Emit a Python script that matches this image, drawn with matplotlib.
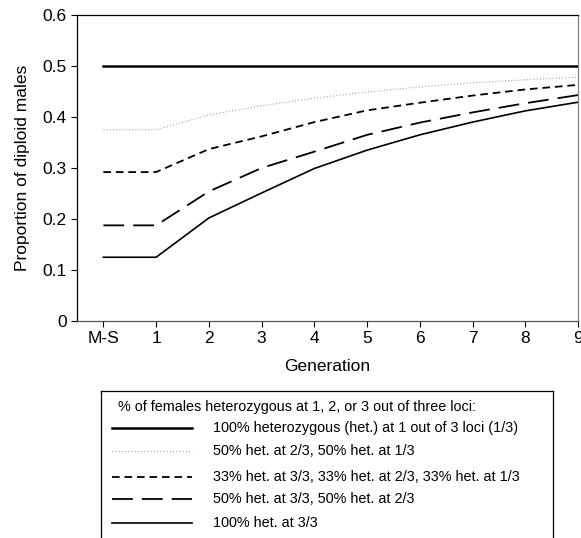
import numpy as np
import matplotlib
matplotlib.use("Agg")
import matplotlib.pyplot as plt

plt.rcParams['font.family'] = ['Liberation Sans', 'DejaVu Sans']
plt.rcParams['lines.scale_dashes'] = False

# data
generations = ["M-S", "1", "2", "3", "4", "5", "6", "7", "8", "9"]
het_1of3 = [0.5, 0.5, 0.5, 0.5, 0.5, 0.5, 0.5, 0.5, 0.5, 0.5]
het_2of3_1of3 = [0.375, 0.375, 0.404, 0.422, 0.437, 0.449, 0.459, 0.467, 0.473, 0.478]
het_mixed = [0.292, 0.292, 0.337, 0.362, 0.390, 0.413, 0.428, 0.442, 0.454, 0.463]
het_3of3_2of3 = [0.1875, 0.1875, 0.254, 0.300, 0.332, 0.365, 0.389, 0.409, 0.427, 0.443]
het_3of3 = [0.125, 0.125, 0.202, 0.251, 0.299, 0.335, 0.365, 0.390, 0.412, 0.429]

legend_title = "% of females heterozygous at 1, 2, or 3 out of three loci:"
labels = [
    "100% heterozygous (het.) at 1 out of 3 loci (1/3)",
    "50% het. at 2/3, 50% het. at 1/3",
    "33% het. at 3/3, 33% het. at 2/3, 33% het. at 1/3",
    "50% het. at 3/3, 50% het. at 2/3",
    "100% het. at 3/3",
]

series = [het_1of3, het_2of3_1of3, het_mixed, het_3of3_2of3, het_3of3]
styles = [
    dict(color="black", lw=1.8, ls="-"),
    dict(color="#9a9a9a", lw=0.8, ls=(0, (0.7, 1.6))),
    dict(color="black", lw=1.3, ls=(0, (5.5, 3.5))),
    dict(color="black", lw=1.3, ls=(0, (15, 6.5))),
    dict(color="black", lw=1.2, ls="-"),
]

fig = plt.figure(figsize=(5.81, 5.38), dpi=100)
ax = fig.add_axes([77 / 581, 1 - 321 / 538, 501 / 581, 306 / 538])

x = np.arange(len(generations))
for vals, st in zip(series, styles):
    ax.plot(x, vals, **st)

ax.set_xlim(-0.5, 9)
ax.set_ylim(0, 0.6)
ax.set_xticks(x)
ax.set_xticklabels(generations)
ax.set_yticks([0, 0.1, 0.2, 0.3, 0.4, 0.5, 0.6])
ax.set_yticklabels(["0", "0.1", "0.2", "0.3", "0.4", "0.5", "0.6"])
ax.tick_params(labelsize=12.5, length=4, width=0.8, direction="out")
for s in ax.spines.values():
    s.set_linewidth(0.9)
ax.spines["right"].set_color("#808080")
ax.spines["bottom"].set_color("#555555")
ax.set_xlabel("Generation", fontsize=12.5, labelpad=9)
ax.set_ylabel("Proportion of diploid males", fontsize=12.5, labelpad=9)

# legend box, drawn as its own axes (bottom is cut off by the figure edge)
lax = fig.add_axes([101 / 581, -0.05, 452 / 581, 1 - 391 / 538 + 0.05])
lax.set_xlim(0, 452)
lax.set_ylim(147 + 27, 0)
lax.set_xticks([])
lax.set_yticks([])
for s in lax.spines.values():
    s.set_linewidth(0.9)
lax.text(17, 16, legend_title, fontsize=10.4, va="center", ha="left")
row_y = [37, 60, 86, 108, 132]
for yy, lab, st in zip(row_y, labels, styles):
    lax.plot([11, 91], [yy, yy], **st)
    lax.text(112, yy, lab, fontsize=10.4, va="center", ha="left")

fig.savefig("out.png", dpi=100)
